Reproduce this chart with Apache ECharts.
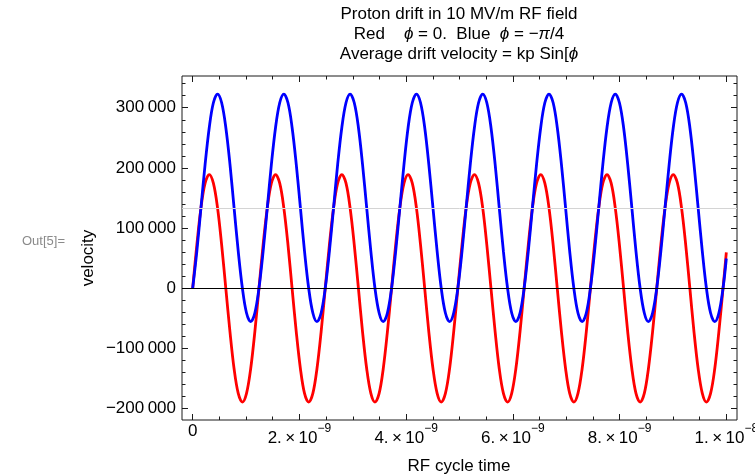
<!DOCTYPE html>
<html>
<head>
<meta charset="utf-8">
<script src="https://cdn.jsdelivr.net/npm/echarts@6/dist/echarts.min.js"></script>
<style>
  html, body { margin: 0; padding: 0; background: #fff; }
  #chart { width: 755px; height: 476px; }
</style>
</head>
<body>
<div id="chart"></div>
<script>
// RF cycle time in ns, 16 samples per RF period
const timeNs = [
  0, 0.078, 0.155, 0.233, 0.311, 0.388, 0.466, 0.543, 0.621, 0.699, 0.776, 0.854, 0.932, 1.009, 1.087, 1.165,
  1.242, 1.320, 1.398, 1.475, 1.553, 1.631, 1.708, 1.786, 1.863, 1.941, 2.019, 2.096, 2.174, 2.252, 2.329, 2.407,
  2.484, 2.562, 2.640, 2.717, 2.795, 2.873, 2.950, 3.028, 3.106, 3.183, 3.261, 3.339, 3.416, 3.494, 3.571, 3.649,
  3.727, 3.804, 3.882, 3.960, 4.037, 4.115, 4.193, 4.270, 4.348, 4.425, 4.503, 4.581, 4.658, 4.736, 4.814, 4.891,
  4.969, 5.047, 5.124, 5.202, 5.280, 5.357, 5.435, 5.512, 5.590, 5.668, 5.745, 5.823, 5.901, 5.978, 6.056, 6.134,
  6.211, 6.289, 6.366, 6.444, 6.522, 6.599, 6.677, 6.755, 6.832, 6.910, 6.988, 7.065, 7.143, 7.220, 7.298, 7.376,
  7.453, 7.531, 7.609, 7.686, 7.764, 7.842, 7.919, 7.997, 8.075, 8.152, 8.230, 8.307, 8.385, 8.463, 8.540, 8.618,
  8.696, 8.773, 8.851, 8.929, 9.006, 9.084, 9.161, 9.239, 9.317, 9.394, 9.472, 9.550, 9.627, 9.705, 9.783, 9.860,
  9.938, 10.000
]

// red: phi = 0
const redVelocity = [
  0, 72300, 133600, 174600, 189000, 174600, 133600, 72300, 0, -72300, -133600, -174600, -189000, -174600, -133600, -72300,
  0, 72300, 133600, 174600, 189000, 174600, 133600, 72300, 0, -72300, -133600, -174600, -189000, -174600, -133600, -72300,
  0, 72300, 133600, 174600, 189000, 174600, 133600, 72300, 0, -72300, -133600, -174600, -189000, -174600, -133600, -72300,
  0, 72300, 133600, 174600, 189000, 174600, 133600, 72300, 0, -72300, -133600, -174600, -189000, -174600, -133600, -72300,
  0, 72300, 133600, 174600, 189000, 174600, 133600, 72300, 0, -72300, -133600, -174600, -189000, -174600, -133600, -72300,
  0, 72300, 133600, 174600, 189000, 174600, 133600, 72300, 0, -72300, -133600, -174600, -189000, -174600, -133600, -72300,
  0, 72300, 133600, 174600, 189000, 174600, 133600, 72300, 0, -72300, -133600, -174600, -189000, -174600, -133600, -72300,
  0, 72300, 133600, 174600, 189000, 174600, 133600, 72300, 0, -72300, -133600, -174600, -189000, -174600, -133600, -72300,
  0, 59500
]

// blue: phi = -pi/4
const blueVelocity = [
  0, 61300, 133600, 205900, 267200, 308200, 322600, 308200, 267200, 205900, 133600, 61300, 0, -41000, -55400, -41000,
  0, 61300, 133600, 205900, 267200, 308200, 322600, 308200, 267200, 205900, 133600, 61300, 0, -41000, -55400, -41000,
  0, 61300, 133600, 205900, 267200, 308200, 322600, 308200, 267200, 205900, 133600, 61300, 0, -41000, -55400, -41000,
  0, 61300, 133600, 205900, 267200, 308200, 322600, 308200, 267200, 205900, 133600, 61300, 0, -41000, -55400, -41000,
  0, 61300, 133600, 205900, 267200, 308200, 322600, 308200, 267200, 205900, 133600, 61300, 0, -41000, -55400, -41000,
  0, 61300, 133600, 205900, 267200, 308200, 322600, 308200, 267200, 205900, 133600, 61300, 0, -41000, -55400, -41000,
  0, 61300, 133600, 205900, 267200, 308200, 322600, 308200, 267200, 205900, 133600, 61300, 0, -41000, -55400, -41000,
  0, 61300, 133600, 205900, 267200, 308200, 322600, 308200, 267200, 205900, 133600, 61300, 0, -41000, -55400, -41000,
  0, 49500
]

// average drift velocity of the blue case (grid line)
const driftLine = 133600

const xMajorTicks = [0, 2, 4, 6, 8, 10]
const xMinorTicks = [0, 0.5, 1, 1.5, 2, 2.5, 3, 3.5, 4, 4.5, 5, 5.5, 6, 6.5, 7, 7.5, 8, 8.5, 9, 9.5, 10]
const yMajorTicks = [-200000, -100000, 0, 100000, 200000, 300000]
const yMinorTicks = [
  -200000, -180000, -160000, -140000, -120000, -100000, -80000, -60000, -40000, -20000,
  0, 20000, 40000, 60000, 80000, 100000, 120000, 140000, 160000, 180000,
  200000, 220000, 240000, 260000, 280000, 300000, 320000, 340000
]

const X_MIN = -0.2
const X_MAX = 10.2
const Y_MIN = -218800
const Y_MAX = 352700

const FONT = '"Liberation Sans", Arial, "DejaVu Sans", sans-serif'
const FRAME = '#1a1a1a'

function formatY(v) {
  if (v === 0) return '0'
  const s = String(Math.abs(v))
  const grouped = s.slice(0, s.length - 3) + '\u2009' + s.slice(s.length - 3)
  return (v < 0 ? '\u2212' : '') + grouped
}

function formatX(v) {
  if (v === 0) return '{z|0}'
  if (v === 10) return '{n|1.\u2009×\u200910}{s|\u22128}'
  return '{n|' + v + '.\u2009×\u200910}{s|\u22129}'
}

function xAxisOf(position, ticks, len, withLabels) {
  return {
    type: 'value',
    position: position,
    min: X_MIN,
    max: X_MAX,
    axisLine: { show: false, onZero: false },
    splitLine: { show: false },
    axisTick: {
      show: true,
      inside: true,
      length: len,
      customValues: ticks,
      lineStyle: { color: FRAME, width: 1 }
    },
    axisLabel: withLabels ? {
      show: true,
      customValues: ticks,
      margin: 3,
      color: '#000',
      fontFamily: FONT,
      fontSize: 17,
      formatter: formatX,
      rich: {
        z: { fontSize: 17, lineHeight: 17, fontFamily: FONT, color: '#000' },
        n: { fontSize: 17, lineHeight: 17, fontFamily: FONT, color: '#000', verticalAlign: 'bottom' },
        s: { fontSize: 12, lineHeight: 24, fontFamily: FONT, color: '#000', verticalAlign: 'top' }
      }
    } : { show: false }
  }
}

function yAxisOf(position, ticks, len, withLabels) {
  return {
    type: 'value',
    position: position,
    min: Y_MIN,
    max: Y_MAX,
    axisLine: { show: false, onZero: false },
    splitLine: { show: false },
    axisTick: {
      show: true,
      inside: true,
      length: len,
      customValues: ticks,
      lineStyle: { color: FRAME, width: 1 }
    },
    axisLabel: withLabels ? {
      show: true,
      customValues: ticks,
      margin: 6,
      color: '#000',
      fontFamily: FONT,
      fontSize: 17,
      formatter: formatY
    } : { show: false }
  }
}

const chart = echarts.init(document.getElementById('chart'), null, { renderer: 'canvas' })

chart.setOption({
  animation: false,
  backgroundColor: '#fff',
  grid: {
    left: 182,
    right: 18,
    top: 76,
    bottom: 56,
    show: true,
    borderColor: FRAME,
    borderWidth: 1,
    backgroundColor: 'transparent',
    containLabel: false,
    outerBoundsMode: 'none'
  },
  xAxis: [
    xAxisOf('bottom', xMajorTicks, 6, true),
    xAxisOf('bottom', xMinorTicks, 3.5, false),
    xAxisOf('top', xMajorTicks, 6, false),
    xAxisOf('top', xMinorTicks, 3.5, false)
  ],
  yAxis: [
    yAxisOf('left', yMajorTicks, 6, true),
    yAxisOf('left', yMinorTicks, 3.5, false),
    yAxisOf('right', yMajorTicks, 6, false),
    yAxisOf('right', yMinorTicks, 3.5, false)
  ],
  graphic: [
    {
      type: 'text',
      x: 459,
      y: 4,
      style: {
        text: 'Proton drift in 10 MV/m RF field\n' +
          'Red    {i|\u03d5} = 0.  Blue  {i|\u03d5} = \u2212{i|\u03c0}/4\n' +
          'Average drift velocity = kp Sin[{i|\u03d5}',
        fill: '#000',
        fontFamily: FONT,
        fontSize: 17,
        lineHeight: 20,
        align: 'center',
        verticalAlign: 'top',
        rich: {
          i: { fontStyle: 'italic', fontFamily: FONT, fontSize: 17, lineHeight: 20, fill: '#000' }
        }
      }
    },
    {
      type: 'text',
      x: 22,
      y: 241,
      style: {
        text: 'Out[5]=',
        fill: '#8a8a8a',
        fontFamily: FONT,
        fontSize: 13,
        align: 'left',
        verticalAlign: 'middle'
      }
    },
    {
      type: 'text',
      x: 88,
      y: 258,
      rotation: Math.PI / 2,
      style: {
        text: 'velocity',
        fill: '#000',
        fontFamily: FONT,
        fontSize: 17,
        align: 'center',
        verticalAlign: 'middle'
      }
    },
    {
      type: 'text',
      x: 459,
      y: 466,
      style: {
        text: 'RF cycle time',
        fill: '#000',
        fontFamily: FONT,
        fontSize: 17,
        align: 'center',
        verticalAlign: 'middle'
      }
    }
  ],
  series: [
    {
      name: 'guides',
      type: 'line',
      data: [],
      silent: true,
      markLine: {
        silent: true,
        symbol: 'none',
        label: { show: false },
        animation: false,
        data: [
          { yAxis: driftLine, lineStyle: { color: '#d4d4d4', width: 1, type: 'solid' } },
          { yAxis: 0, lineStyle: { color: '#000', width: 1, type: 'solid' } }
        ]
      }
    },
    {
      name: 'red',
      type: 'line',
      data: timeNs.map((t, i) => [t, redVelocity[i]]),
      showSymbol: false,
      smooth: 0.35,
      lineStyle: { color: '#ff0000', width: 2.8 },
      itemStyle: { color: '#ff0000' }
    },
    {
      name: 'blue',
      type: 'line',
      data: timeNs.map((t, i) => [t, blueVelocity[i]]),
      showSymbol: false,
      smooth: 0.35,
      lineStyle: { color: '#0000ff', width: 2.8 },
      itemStyle: { color: '#0000ff' }
    }
  ]
})
</script>
</body>
</html>
